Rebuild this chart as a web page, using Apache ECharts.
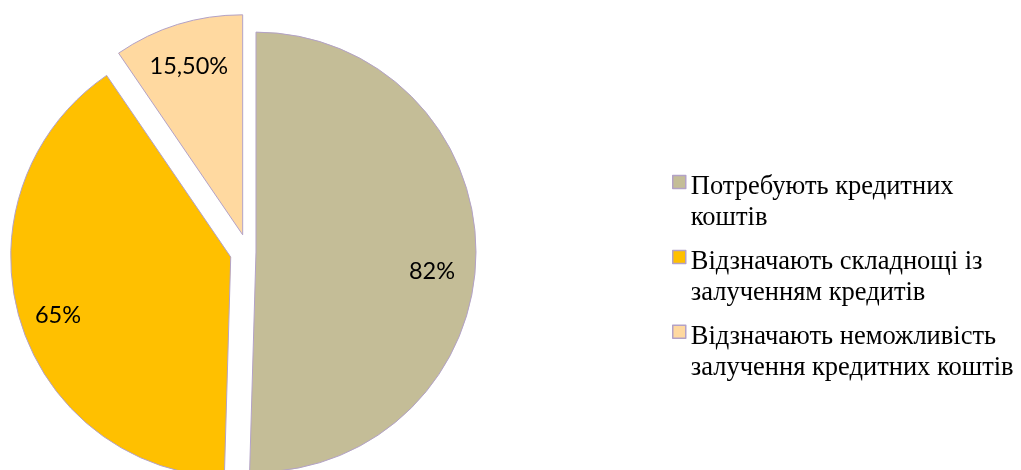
<!DOCTYPE html>
<html><head><meta charset="utf-8">
<script src="https://cdn.jsdelivr.net/npm/echarts@6/dist/echarts.min.js"></script>
<style>html,body{margin:0;padding:0;background:#fff}#c{width:1021px;height:470px}</style>
</head><body><div id="c"></div>
<script>
// ---- data ----
const categoryLines = [
  ['Потребують кредитних', 'коштів'],
  ['Відзначають складнощі із', 'залученням кредитів'],
  ['Відзначають неможливість', 'залучення кредитних коштів']
];
const categories = categoryLines.map(l => l.join(' '));
const values = [82, 65, 15.5];
const valueLabels = ['82%', '65%', '15,50%'];

// ---- styles ----
const sliceColors = ['#C4BD97', '#FFC000', '#FFD9A0'];
const explode = [8, 18, 18];
const labelNudge = [{dx: -3, dy: 17}, {dx: -1, dy: 8}, {dx: -1, dy: 3}];
const borderColor = '#B3A2C7';
const CENTER = [248, 252];
const R = 220;

const chart = echarts.init(document.getElementById('c'), null, {renderer: 'canvas'});
const transparent = 'rgba(0,0,0,0)';
const series = [];
categories.forEach((_, i) => {
  const common = {
    type: 'pie', center: CENTER, startAngle: 90, clockwise: true,
    selectedMode: 'multiple', selectedOffset: explode[i], silent: true,
    animation: false, avoidLabelOverlap: false,
    emphasis: {disabled: true, scale: false},
    labelLine: {show: false}
  };
  series.push(Object.assign({}, common, {
    radius: [0, R],
    label: {show: false},
    data: categories.map((name, j) => ({
      name, value: values[j], selected: j === i,
      itemStyle: j === i ? {color: sliceColors[j], borderColor: borderColor, borderWidth: 1}
                         : {color: transparent, borderWidth: 0}
    }))
  }));
  series.push(Object.assign({}, common, {
    radius: [R * 0.6, R],
    labelLayout: labelNudge[i],
    data: categories.map((name, j) => ({
      name, value: values[j], selected: j === i,
      itemStyle: {color: transparent, borderWidth: 0},
      label: j === i ? {
        show: true, position: 'inside', formatter: valueLabels[j],
        fontFamily: 'Lato', fontSize: 23.5, color: '#000'
      } : {show: false}
    }))
  }));
});

const legendFont = {fontFamily: 'Liberation Serif', fontSize: 26.5, color: '#000'};
chart.setOption({
  animation: false,
  backgroundColor: '#fff',
  legend: {
    orient: 'vertical', left: 672, top: 137.5, padding: 0,
    itemWidth: 13, itemHeight: 13, itemGap: -19.1,
    selectedMode: false, icon: 'rect',
    data: categories.map((name, j) => ({
      name, itemStyle: {color: sliceColors[j], borderColor: borderColor, borderWidth: 1.5}
    })),
    formatter: name => '{s| }\n' + categoryLines[categories.indexOf(name)].map(l => '{t|' + l + '}').join('\n'),
    textStyle: Object.assign({}, legendFont, {
      rich: {
        s: Object.assign({}, legendFont, {lineHeight: 41}),
        t: Object.assign({}, legendFont, {lineHeight: 31})
      }
    })
  },
  series: series
});
</script></body></html>
